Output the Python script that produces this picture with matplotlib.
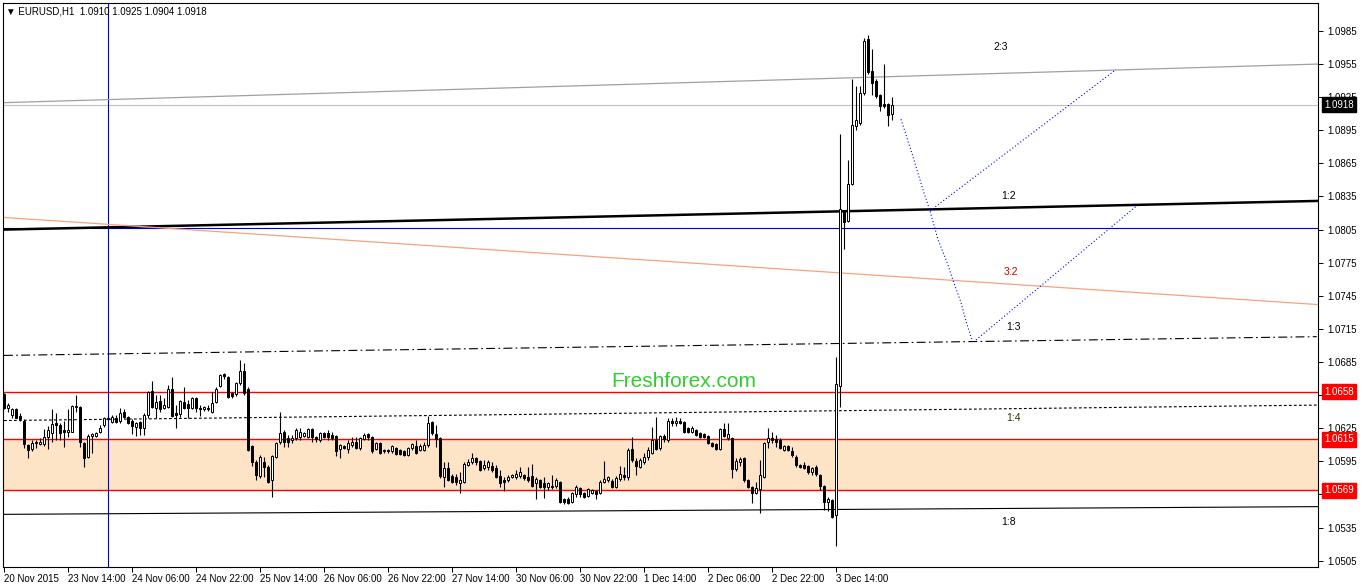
import numpy as np
import matplotlib.pyplot as plt
import matplotlib.transforms as mtransforms

plt.rcParams['font.family'] = ['Liberation Sans', 'DejaVu Sans']

# EURUSD H1 candles (bar index 0 = 20 Nov 2015)
opens = [
    1.0656, 1.0643, 1.0637, 1.0642, 1.0636, 1.0632, 1.0610, 1.0606, 1.0612, 1.0611,
    1.0611, 1.0617, 1.0621, 1.0630, 1.0628, 1.0623, 1.0622, 1.0622, 1.0644, 1.0644,
    1.0612, 1.0599, 1.0618, 1.0618, 1.0622, 1.0628, 1.0633, 1.0631, 1.0634, 1.0632,
    1.0640, 1.0635, 1.0632, 1.0626, 1.0631, 1.0625, 1.0637, 1.0659, 1.0643, 1.0650,
    1.0643, 1.0644, 1.0661, 1.0639, 1.0638, 1.0649, 1.0647, 1.0643, 1.0652, 1.0643,
    1.0642, 1.0643, 1.0640, 1.0649, 1.0663, 1.0674, 1.0671, 1.0657, 1.0656, 1.0666,
    1.0677, 1.0661, 1.0609, 1.0594, 1.0582, 1.0594, 1.0590, 1.0578, 1.0599, 1.0613,
    1.0622, 1.0616, 1.0614, 1.0616, 1.0617, 1.0618, 1.0617, 1.0624, 1.0617, 1.0614,
    1.0621, 1.0621, 1.0619, 1.0618, 1.0606, 1.0609, 1.0606, 1.0610, 1.0613, 1.0607,
    1.0615, 1.0620, 1.0617, 1.0606, 1.0612, 1.0604, 1.0605, 1.0604, 1.0607, 1.0605,
    1.0604, 1.0601, 1.0607, 1.0609, 1.0605, 1.0605, 1.0610, 1.0631, 1.0620, 1.0616,
    1.0581, 1.0589, 1.0582, 1.0581, 1.0575, 1.0576, 1.0592, 1.0594, 1.0598, 1.0595,
    1.0589, 1.0590, 1.0591, 1.0589, 1.0582, 1.0578, 1.0578, 1.0581, 1.0581, 1.0582,
    1.0583, 1.0581, 1.0582, 1.0575, 1.0578, 1.0575, 1.0572, 1.0573, 1.0573, 1.0576,
    1.0561, 1.0561, 1.0558, 1.0565, 1.0571, 1.0566, 1.0564, 1.0566, 1.0568, 1.0566,
    1.0576, 1.0578, 1.0577, 1.0572, 1.0579, 1.0583, 1.0581, 1.0606, 1.0595, 1.0590,
    1.0594, 1.0599, 1.0603, 1.0614, 1.0607, 1.0618, 1.0614, 1.0632, 1.0630, 1.0632,
    1.0631, 1.0625, 1.0622, 1.0623, 1.0621, 1.0620, 1.0618, 1.0612, 1.0611, 1.0606,
    1.0624, 1.0616, 1.0616, 1.0588, 1.0594, 1.0598, 1.0578, 1.0572, 1.0566, 1.0570,
    1.0581, 1.0613, 1.0616, 1.0615, 1.0614, 1.0605, 1.0609, 1.0604, 1.0599, 1.0592,
    1.0592, 1.0591, 1.0585, 1.0590, 1.0583, 1.0573, 1.0558, 1.0560, 1.0546, 1.0663,
    1.0822, 1.0813, 1.0846, 1.0899, 1.0902, 1.0929, 1.0978, 1.0949, 1.0940, 1.0927,
    1.0919, 1.0919, 1.0910,
]
highs = [
    1.0657, 1.0648, 1.0643, 1.0643, 1.0639, 1.0633, 1.0611, 1.0614, 1.0614, 1.0616,
    1.0624, 1.0627, 1.0642, 1.0639, 1.0630, 1.0632, 1.0642, 1.0646, 1.0655, 1.0645,
    1.0613, 1.0620, 1.0621, 1.0622, 1.0628, 1.0635, 1.0636, 1.0637, 1.0637, 1.0643,
    1.0642, 1.0636, 1.0633, 1.0631, 1.0632, 1.0639, 1.0659, 1.0668, 1.0655, 1.0655,
    1.0652, 1.0664, 1.0671, 1.0646, 1.0651, 1.0662, 1.0651, 1.0653, 1.0653, 1.0646,
    1.0645, 1.0646, 1.0658, 1.0662, 1.0674, 1.0675, 1.0672, 1.0658, 1.0667, 1.0687,
    1.0684, 1.0662, 1.0610, 1.0596, 1.0601, 1.0599, 1.0592, 1.0601, 1.0613, 1.0640,
    1.0623, 1.0619, 1.0619, 1.0625, 1.0625, 1.0622, 1.0625, 1.0625, 1.0618, 1.0622,
    1.0622, 1.0623, 1.0622, 1.0619, 1.0611, 1.0610, 1.0614, 1.0617, 1.0617, 1.0617,
    1.0621, 1.0621, 1.0618, 1.0613, 1.0613, 1.0606, 1.0606, 1.0610, 1.0608, 1.0606,
    1.0605, 1.0608, 1.0612, 1.0614, 1.0611, 1.0613, 1.0636, 1.0632, 1.0628, 1.0617,
    1.0594, 1.0594, 1.0584, 1.0584, 1.0585, 1.0594, 1.0597, 1.0603, 1.0599, 1.0596,
    1.0596, 1.0596, 1.0594, 1.0592, 1.0587, 1.0581, 1.0583, 1.0584, 1.0587, 1.0590,
    1.0584, 1.0590, 1.0593, 1.0581, 1.0579, 1.0581, 1.0576, 1.0583, 1.0580, 1.0577,
    1.0562, 1.0563, 1.0567, 1.0574, 1.0572, 1.0567, 1.0571, 1.0570, 1.0569, 1.0578,
    1.0595, 1.0582, 1.0579, 1.0582, 1.0591, 1.0590, 1.0607, 1.0617, 1.0598, 1.0598,
    1.0603, 1.0608, 1.0626, 1.0635, 1.0619, 1.0620, 1.0634, 1.0634, 1.0635, 1.0634,
    1.0632, 1.0626, 1.0627, 1.0624, 1.0622, 1.0621, 1.0619, 1.0613, 1.0612, 1.0625,
    1.0630, 1.0630, 1.0617, 1.0598, 1.0599, 1.0599, 1.0579, 1.0573, 1.0576, 1.0596,
    1.0613, 1.0625, 1.0622, 1.0619, 1.0616, 1.0610, 1.0610, 1.0608, 1.0601, 1.0593,
    1.0594, 1.0592, 1.0590, 1.0592, 1.0584, 1.0574, 1.0563, 1.0561, 1.0690, 1.0892,
    1.0823, 1.0868, 1.0941, 1.0935, 1.0935, 1.0979, 1.0981, 1.0969, 1.0941, 1.0928,
    1.0955, 1.0920, 1.0925,
]
lows = [
    1.0642, 1.0640, 1.0634, 1.0634, 1.0632, 1.0607, 1.0598, 1.0604, 1.0607, 1.0610,
    1.0609, 1.0606, 1.0613, 1.0614, 1.0614, 1.0608, 1.0617, 1.0622, 1.0640, 1.0608,
    1.0590, 1.0598, 1.0603, 1.0617, 1.0621, 1.0626, 1.0632, 1.0630, 1.0630, 1.0630,
    1.0634, 1.0629, 1.0620, 1.0618, 1.0619, 1.0619, 1.0634, 1.0643, 1.0634, 1.0640,
    1.0642, 1.0643, 1.0635, 1.0625, 1.0635, 1.0642, 1.0634, 1.0642, 1.0640, 1.0636,
    1.0641, 1.0641, 1.0639, 1.0648, 1.0662, 1.0670, 1.0652, 1.0652, 1.0654, 1.0664,
    1.0655, 1.0604, 1.0591, 1.0578, 1.0580, 1.0581, 1.0575, 1.0563, 1.0598, 1.0611,
    1.0608, 1.0608, 1.0612, 1.0614, 1.0614, 1.0617, 1.0616, 1.0613, 1.0613, 1.0613,
    1.0616, 1.0614, 1.0614, 1.0600, 1.0598, 1.0606, 1.0603, 1.0608, 1.0606, 1.0605,
    1.0614, 1.0614, 1.0603, 1.0605, 1.0602, 1.0603, 1.0603, 1.0603, 1.0601, 1.0601,
    1.0600, 1.0600, 1.0605, 1.0602, 1.0604, 1.0604, 1.0608, 1.0619, 1.0608, 1.0580,
    1.0572, 1.0577, 1.0575, 1.0574, 1.0566, 1.0575, 1.0591, 1.0593, 1.0592, 1.0586,
    1.0587, 1.0587, 1.0585, 1.0580, 1.0572, 1.0568, 1.0576, 1.0580, 1.0579, 1.0580,
    1.0578, 1.0576, 1.0572, 1.0561, 1.0571, 1.0562, 1.0569, 1.0570, 1.0571, 1.0557,
    1.0556, 1.0556, 1.0557, 1.0563, 1.0563, 1.0562, 1.0563, 1.0565, 1.0561, 1.0565,
    1.0575, 1.0576, 1.0571, 1.0571, 1.0577, 1.0578, 1.0578, 1.0594, 1.0583, 1.0589,
    1.0593, 1.0596, 1.0602, 1.0605, 1.0605, 1.0613, 1.0613, 1.0627, 1.0627, 1.0629,
    1.0621, 1.0621, 1.0621, 1.0618, 1.0616, 1.0616, 1.0611, 1.0608, 1.0605, 1.0605,
    1.0617, 1.0614, 1.0580, 1.0586, 1.0591, 1.0576, 1.0571, 1.0557, 1.0565, 1.0548,
    1.0580, 1.0607, 1.0612, 1.0608, 1.0606, 1.0604, 1.0604, 1.0599, 1.0590, 1.0589,
    1.0588, 1.0584, 1.0583, 1.0582, 1.0569, 1.0551, 1.0550, 1.0544, 1.0518, 1.0644,
    1.0787, 1.0812, 1.0845, 1.0895, 1.0900, 1.0927, 1.0946, 1.0927, 1.0924, 1.0912,
    1.0915, 1.0899, 1.0904,
]
closes = [
    1.0643, 1.0646, 1.0642, 1.0634, 1.0633, 1.0611, 1.0605, 1.0612, 1.0613, 1.0613,
    1.0617, 1.0623, 1.0629, 1.0628, 1.0621, 1.0622, 1.0623, 1.0645, 1.0645, 1.0613,
    1.0598, 1.0618, 1.0620, 1.0621, 1.0625, 1.0634, 1.0634, 1.0635, 1.0631, 1.0639,
    1.0635, 1.0630, 1.0627, 1.0630, 1.0625, 1.0637, 1.0658, 1.0644, 1.0649, 1.0642,
    1.0646, 1.0661, 1.0636, 1.0637, 1.0650, 1.0643, 1.0643, 1.0652, 1.0643, 1.0642,
    1.0644, 1.0642, 1.0648, 1.0661, 1.0673, 1.0672, 1.0653, 1.0654, 1.0666, 1.0677,
    1.0657, 1.0605, 1.0594, 1.0583, 1.0599, 1.0590, 1.0576, 1.0600, 1.0612, 1.0621,
    1.0613, 1.0613, 1.0616, 1.0623, 1.0622, 1.0621, 1.0624, 1.0617, 1.0615, 1.0621,
    1.0617, 1.0617, 1.0616, 1.0604, 1.0610, 1.0607, 1.0612, 1.0613, 1.0607, 1.0616,
    1.0619, 1.0617, 1.0604, 1.0612, 1.0603, 1.0605, 1.0604, 1.0609, 1.0602, 1.0602,
    1.0601, 1.0607, 1.0611, 1.0603, 1.0609, 1.0610, 1.0630, 1.0621, 1.0615, 1.0582,
    1.0589, 1.0578, 1.0576, 1.0576, 1.0578, 1.0593, 1.0594, 1.0598, 1.0594, 1.0587,
    1.0592, 1.0594, 1.0587, 1.0581, 1.0575, 1.0576, 1.0581, 1.0583, 1.0584, 1.0585,
    1.0580, 1.0578, 1.0573, 1.0579, 1.0572, 1.0572, 1.0575, 1.0572, 1.0578, 1.0558,
    1.0558, 1.0557, 1.0566, 1.0572, 1.0565, 1.0563, 1.0570, 1.0569, 1.0565, 1.0576,
    1.0579, 1.0581, 1.0572, 1.0580, 1.0584, 1.0581, 1.0605, 1.0596, 1.0591, 1.0596,
    1.0599, 1.0605, 1.0614, 1.0606, 1.0618, 1.0615, 1.0632, 1.0630, 1.0632, 1.0630,
    1.0622, 1.0622, 1.0625, 1.0619, 1.0617, 1.0617, 1.0612, 1.0609, 1.0606, 1.0624,
    1.0618, 1.0620, 1.0588, 1.0595, 1.0597, 1.0578, 1.0572, 1.0566, 1.0571, 1.0583,
    1.0612, 1.0616, 1.0614, 1.0613, 1.0607, 1.0609, 1.0605, 1.0601, 1.0592, 1.0590,
    1.0589, 1.0585, 1.0589, 1.0584, 1.0573, 1.0558, 1.0561, 1.0545, 1.0665, 1.0824,
    1.0812, 1.0846, 1.0900, 1.0904, 1.0929, 1.0976, 1.0948, 1.0938, 1.0926, 1.0917,
    1.0917, 1.0909, 1.0918,
]

date_ticks = [0, 16, 32, 48, 64, 80, 96, 112, 128, 144, 160, 176, 192, 208]
date_labels = ["20 Nov 2015", "23 Nov 14:00", "24 Nov 06:00", "24 Nov 22:00",
               "25 Nov 14:00", "26 Nov 06:00", "26 Nov 22:00", "27 Nov 14:00",
               "30 Nov 06:00", "30 Nov 22:00", "1 Dec 14:00", "2 Dec 06:00",
               "2 Dec 22:00", "3 Dec 14:00"]
price_ticks = [1.0505, 1.0535, 1.0565, 1.0595, 1.0625, 1.0655, 1.0685, 1.0715,
               1.0745, 1.0775, 1.0805, 1.0835, 1.0865, 1.0895, 1.0925, 1.0955, 1.0985]

red_levels = [1.0658, 1.0615, 1.0569]
zone_low, zone_high = 1.0569, 1.0615
last_price = 1.0918
blue_level = 1.0806
blue_vline = 26

# trend lines: (bar indices, prices)
end_bar = 328.75
line_23 = ([0, end_bar], [1.0920, 1.0955])
line_12 = ([0, end_bar], [1.0805, 1.0831])
line_32 = ([0, end_bar], [1.0816, 1.0737])
line_13 = ([0, 328.2], [1.0691, 1.0708])
line_14 = ([0, 328.2], [1.0632, 1.0646])
line_18 = ([0, end_bar], [1.0547, 1.0554])

# projected path (blue dotted)
proj_x = [224.25, 227.25, 229.75, 231.5, 233.5, 236, 237.25, 239.25, 240.5, 242]
proj_y = [1.0905, 1.0871, 1.0841, 1.0822, 1.0796, 1.0773, 1.0759, 1.0739, 1.0722, 1.0705]
proj_up1 = ([231.5, 278], [1.0822, 1.0950])
proj_up2 = ([243, 283], [1.0705, 1.0826])

ratio_labels = ["2:3", "1:2", "3:2", "1:3", "1:4", "1:8"]
ratio_x = [249.25, 251.25, 251.75, 252.25, 252.25, 251.25]
ratio_y = [1.0970, 1.0835, 1.0767, 1.0717, 1.0634, 1.0540]
ratio_colors = ["black", "black", "#d00000", "black", "#333300", "black"]

W, H = 1362, 586
fig = plt.figure(figsize=(W / 100, H / 100), dpi=100)
ax = fig.add_axes([3 / W, 19 / H, 1315 / W, 564 / H])
ax.set_xlim(-0.25, 328.5)
ax.set_ylim(1.04993, 1.10103)

# support zone and levels
ax.axhspan(zone_low, zone_high, color="#fde4c6", lw=0, zorder=0)
for lvl in red_levels:
    ax.axhline(lvl, color="red", lw=1.0, zorder=1)
ax.axhline(last_price, color="#c0c0c0", lw=0.8, zorder=1)
ax.axhline(blue_level, color="#0000c0", lw=0.8, zorder=1)
ax.axvline(blue_vline, color="#0000c0", lw=0.8, zorder=1)

ax.plot(*line_23, color="#a0a0a0", lw=0.9, zorder=1)
ax.plot(*line_12, color="black", lw=1.8, zorder=1)
ax.plot(*line_32, color="#f7a27f", lw=0.9, zorder=1)
ax.plot(*line_13, color="black", lw=0.8, dashes=(8, 3, 1.5, 3), zorder=1)
ax.plot(*line_14, color="black", lw=0.8, dashes=(2.5, 2), zorder=1)
ax.plot(*line_18, color="black", lw=0.8, zorder=1)

dot = dict(color="#0000ff", lw=0.8, dashes=(1, 2), zorder=2)
ax.plot(proj_x, proj_y, **dot)
ax.plot(*proj_up1, **dot)
ax.plot(*proj_up2, **dot)

# candles
o = np.array(opens)
h = np.array(highs)
l = np.array(lows)
c = np.array(closes)
idx = np.arange(len(o))
ax.vlines(idx, l, h, color="black", lw=0.8, zorder=3)
body_bottom = np.minimum(o, c)
body_height = np.abs(c - o)
colors = np.where(c >= o, "white", "black")
ax.bar(idx, body_height, bottom=body_bottom, width=0.55, color=colors,
       edgecolor="black", linewidth=0.7, zorder=4)

for txt, x, y, col in zip(ratio_labels, ratio_x, ratio_y, ratio_colors):
    ax.text(x, y, txt, color=col, fontsize=7.5, ha="center", va="center", zorder=5)

ax.text(170, 1.0667, "Freshforex.com", color="#33cc33", fontsize=15,
        ha="center", va="center", zorder=5)

ax.text(3 / 1315, 1 - 8 / 564, "\u25bc EURUSD,H1  1.0910 1.0925 1.0904 1.0918",
        transform=ax.transAxes, fontsize=7, ha="left", va="center", zorder=6)

# axes styling
for sp in ax.spines.values():
    sp.set_color("black")
    sp.set_linewidth(0.8)
ax.yaxis.tick_right()
ax.set_yticks(price_ticks)
ax.set_yticklabels([f"{p:.4f}" for p in price_ticks])
ax.set_xticks(date_ticks)
ax.set_xticklabels(date_labels)
ax.tick_params(axis="y", direction="out", length=3.5, width=0.7, labelsize=7, pad=3)
ax.tick_params(axis="x", direction="out", length=3.5, width=0.7, labelsize=7, pad=1.5)
for lbl in ax.get_xticklabels():
    lbl.set_ha("left")

# price tags on the right axis
trans = mtransforms.blended_transform_factory(ax.transAxes, ax.transData)
tags = [(last_price, "black")] + [(lvl, "red") for lvl in red_levels]
for val, col in tags:
    ax.text(1 + 6 / 1315, val, f"{val:.4f}", transform=trans, color="white",
            fontsize=7, ha="left", va="center", clip_on=False, zorder=10,
            bbox=dict(boxstyle="square,pad=0.25", facecolor=col, edgecolor=col))

fig.savefig("out.png", dpi=100, facecolor="white")
